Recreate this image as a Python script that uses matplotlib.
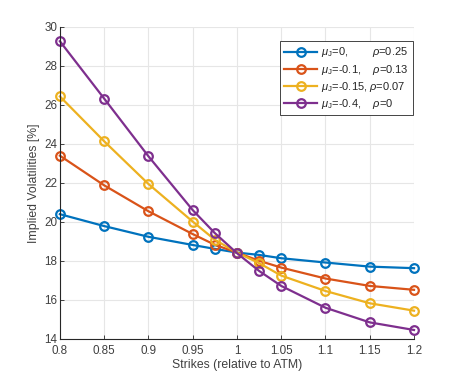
import matplotlib
matplotlib.use("Agg")
import matplotlib.pyplot as plt

plt.rcParams['font.family'] = ['Liberation Sans', 'DejaVu Sans']
plt.rcParams['mathtext.fontset'] = 'custom'
plt.rcParams['mathtext.rm'] = 'Liberation Sans'
plt.rcParams['mathtext.it'] = 'Liberation Sans:italic'

strikes = [0.8, 0.85, 0.9, 0.95, 0.975, 1.0, 1.025, 1.05, 1.1, 1.15, 1.2]
iv_mu0 = [20.40, 19.79, 19.24, 18.82, 18.62, 18.43, 18.31, 18.14, 17.92, 17.71, 17.63]
iv_mu01 = [23.40, 21.88, 20.55, 19.38, 18.83, 18.43, 18.01, 17.66, 17.10, 16.72, 16.52]
iv_mu015 = [26.44, 24.14, 21.95, 20.02, 19.09, 18.43, 17.89, 17.25, 16.46, 15.83, 15.45]
iv_mu04 = [29.27, 26.33, 23.37, 20.61, 19.43, 18.40, 17.49, 16.72, 15.60, 14.85, 14.46]

labels = [r"$\mu_\mathrm{J}$=0,        $\rho$=0.25",
          r"$\mu_\mathrm{J}$=-0.1,    $\rho$=0.13",
          r"$\mu_\mathrm{J}$=-0.15, $\rho$=0.07",
          r"$\mu_\mathrm{J}$=-0.4,    $\rho$=0"]
colors = ['#0072BD', '#D95319', '#EDB120', '#7E2F8E']
xticks = [0.8, 0.85, 0.9, 0.95, 1.0, 1.05, 1.1, 1.15, 1.2]
xticklabels = ['0.8', '0.85', '0.9', '0.95', '1', '1.05', '1.1', '1.15', '1.2']
yticks = [14, 16, 18, 20, 22, 24, 26, 28, 30]

fig = plt.figure(figsize=(4.57, 3.80), dpi=100)
ax = fig.add_axes([0.131, 0.108, 0.775, 0.821])

for ys, c, lab in zip([iv_mu0, iv_mu01, iv_mu015, iv_mu04], colors, labels):
    ax.plot(strikes, ys, '-o', color=c, lw=1.6, markersize=6.2,
            markerfacecolor='none', markeredgewidth=1.6, label=lab, clip_on=False)

ax.set_xlim(0.8, 1.2)
ax.set_ylim(14, 30)
ax.set_xticks(xticks)
ax.set_xticklabels(xticklabels)
ax.set_yticks(yticks)
ax.grid(True, color='#e6e6e6', lw=0.8)
ax.set_axisbelow(True)
for s in ['top', 'right']:
    ax.spines[s].set_visible(False)
for s in ['left', 'bottom']:
    ax.spines[s].set_color('#262626')
    ax.spines[s].set_linewidth(0.8)
ax.tick_params(direction='in', length=3, width=0.6, colors='#262626', labelsize=8.4)
ax.tick_params(axis='x', pad=4)
ax.tick_params(axis='y', pad=2)
for lbl in ax.get_xticklabels() + ax.get_yticklabels():
    lbl.set_color('#404040')
ax.set_xlabel('Strikes (relative to ATM)', fontsize=8.8, color='#404040', labelpad=2)
ax.set_ylabel('Implied Volatilities [%]', fontsize=8.8, color='#404040', labelpad=3)

leg = ax.legend(loc='upper right', bbox_to_anchor=(0.997, 0.955), borderaxespad=0.0,
                fontsize=8.0, handlelength=3.0, handletextpad=0.3, borderpad=0.4,
                labelspacing=0.28, fancybox=False, framealpha=1, edgecolor='#262626')
leg.get_frame().set_linewidth(0.6)
for t in leg.get_texts():
    t.set_color('#262626')

fig.savefig('out.png', dpi=100)
